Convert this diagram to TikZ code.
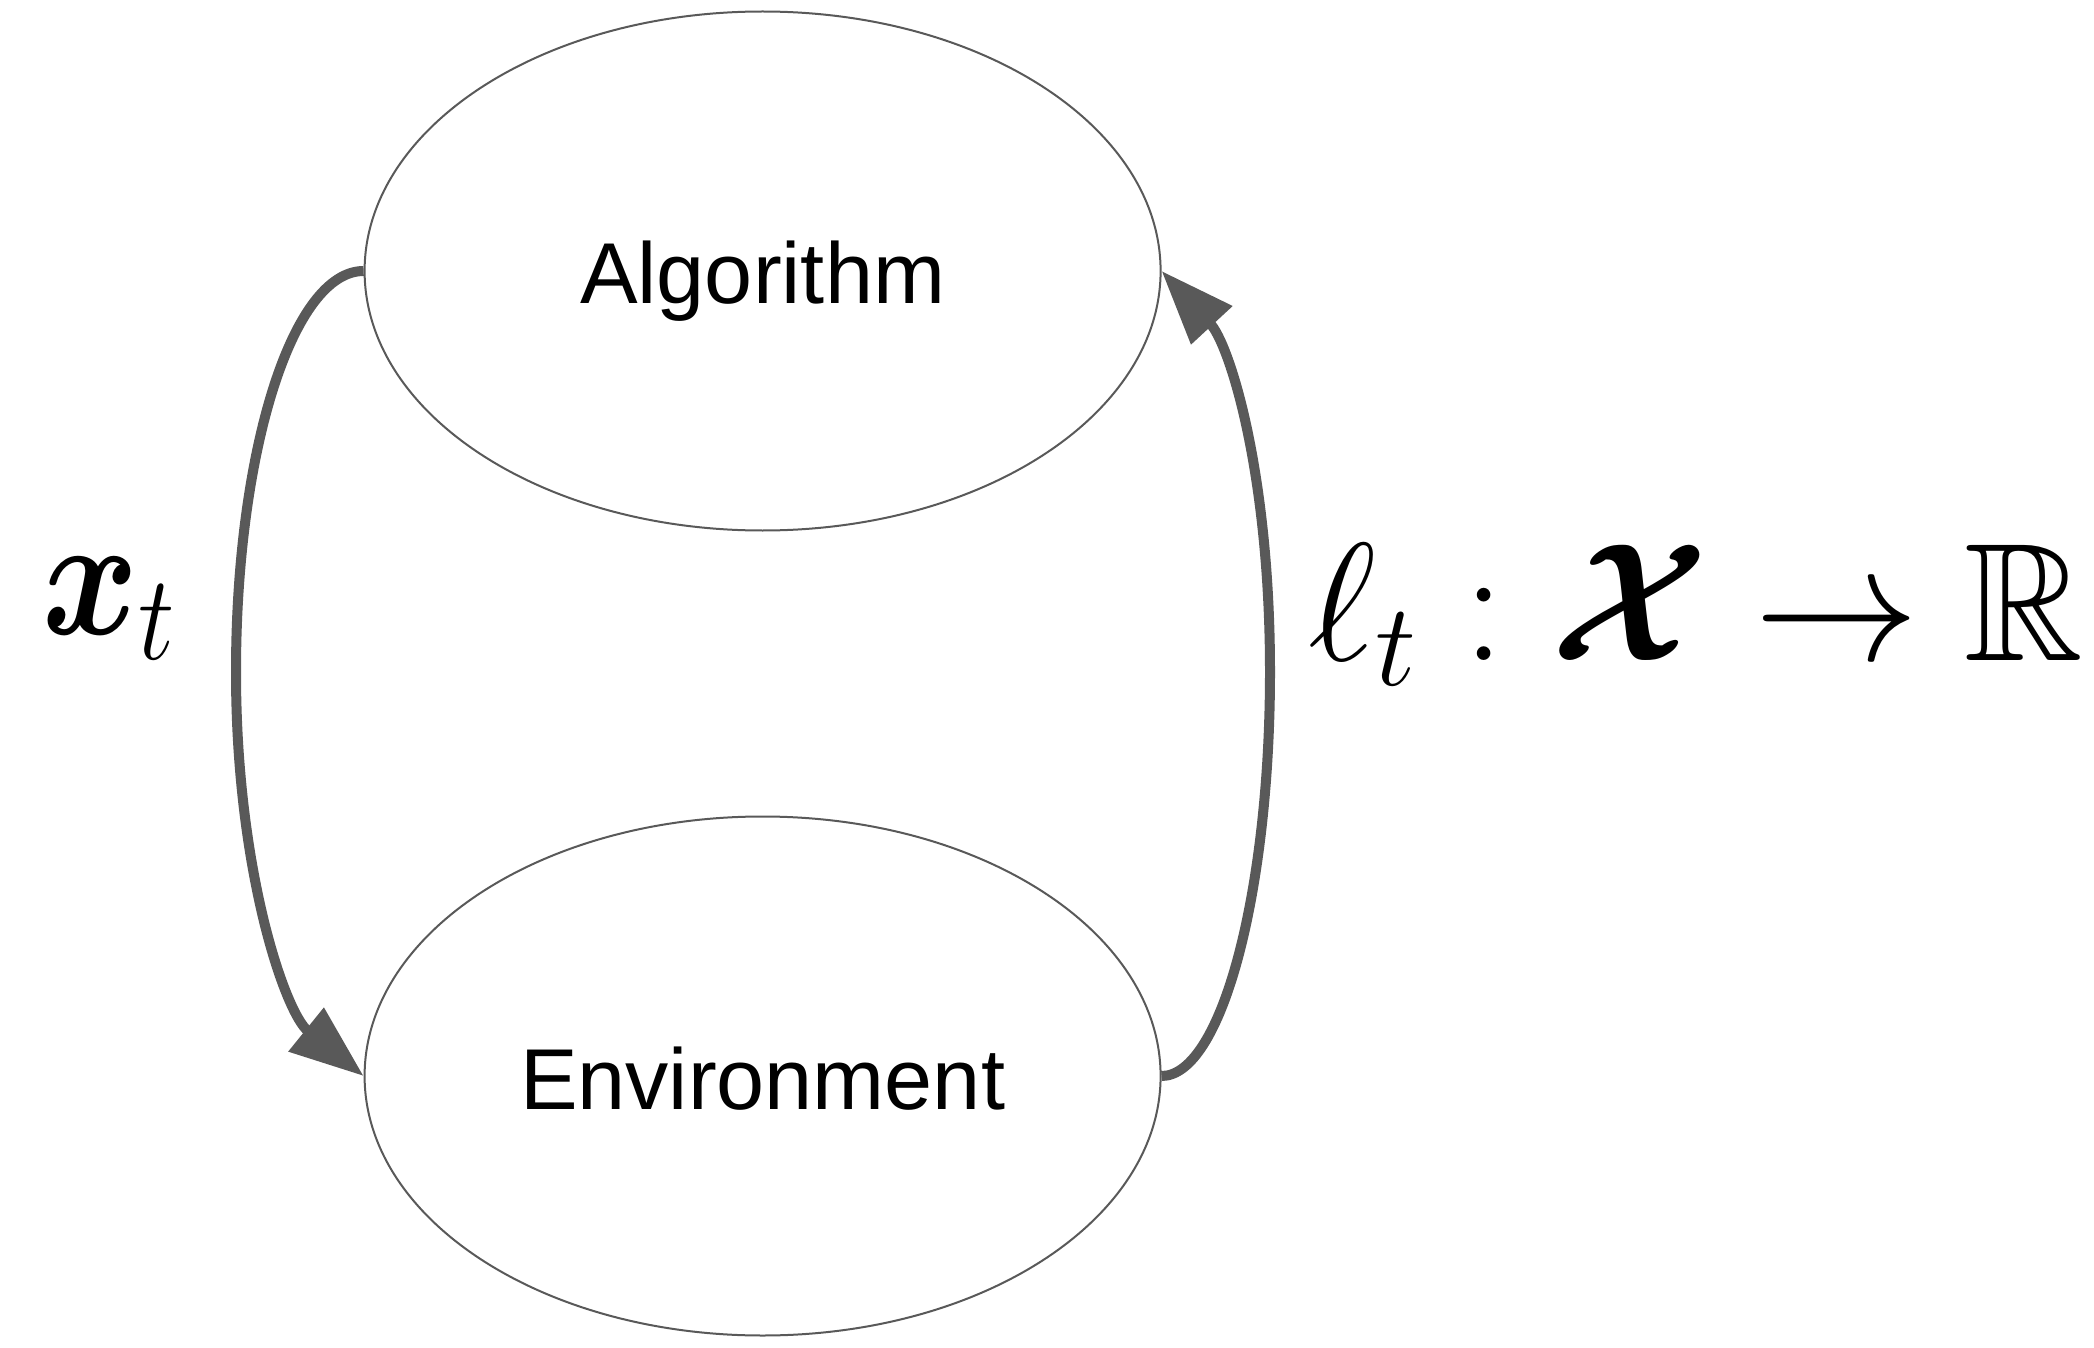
\RequirePackage{fix-cm}
\documentclass[tikz,border=0pt]{standalone}
\usepackage{fontspec}
\usepackage{amsmath,amssymb,bm}
\usepackage{graphicx}
\newfontfamily\arialf{Liberation Sans}
\usetikzlibrary{shapes.geometric,arrows.meta}
\definecolor{linegray}{HTML}{595959}
\begin{document}
\begin{tikzpicture}[x=0.5pt,y=-0.5pt,
  blob/.style={ellipse, draw=linegray, line width=1pt, minimum width=398pt, minimum height=259.5pt,
    inner sep=0pt, font=\arialf\fontsize{43.2}{52}\selectfont, text height=33pt, text depth=0pt},
  flow/.style={draw=linegray, line width=5pt, -{Triangle[length=37pt,width=27pt]}},
  mathlab/.style={inner sep=0pt, font=\fontsize{84}{100}\selectfont}]
\useasboundingbox (0,0) rectangle (2094,1348);
\node[blob] (alg) at (762.6,271) {Algorithm};
\node[blob] (env) at (762.6,1076) {Environment};
\coordinate (lbend) at (236,672);
\coordinate (rbend) at (1270,672);
\draw[flow] (alg.west) .. controls +(-71,0) and +(0,-221) .. (lbend)
  .. controls +(0,200) and +(-78,-63) .. (env.west);
\draw[flow] (env.east) .. controls +(60,0) and +(0,220) .. (rbend)
  .. controls +(0,-200) and +(68,73.5) .. (alg.east);
\node[mathlab, anchor=base] (xlab) at (109,634) {\scalebox{0.87}[1.03]{$\bm{x}_t$}};
\node[mathlab, anchor=base] (llab) at (1696,660) {\scalebox{0.98}[1]{$\ell_t:\bm{\mathcal{X}}\to\mathbb{R}$}};
\end{tikzpicture}
\end{document}
